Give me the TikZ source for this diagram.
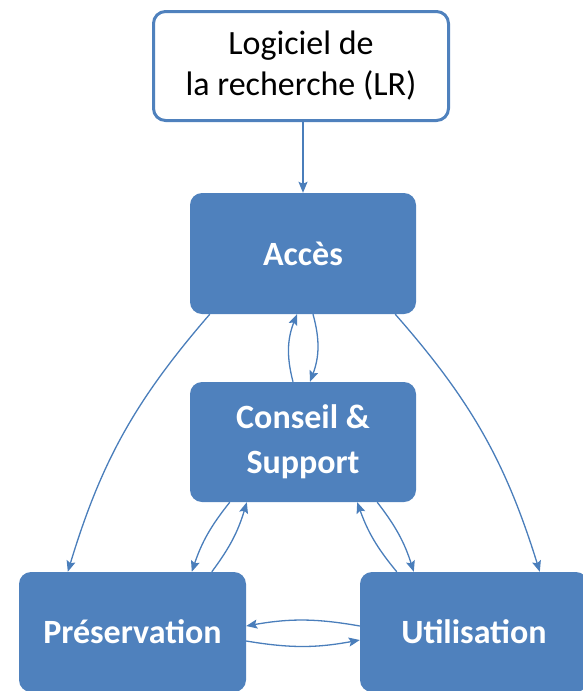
\documentclass[tikz,border=0pt]{standalone}
\usepackage{fontspec}
\setmainfont{Carlito}
\usetikzlibrary{arrows.meta}
\definecolor{boxblue}{HTML}{4F81BD}
\definecolor{linkblue}{HTML}{4A7EBB}
\tikzset{
  bluebox/.style={rounded corners=12pt,fill=boxblue,text=white,align=center,
    font=\fontsize{34}{45}\selectfont\bfseries,inner sep=0pt},
  whitebox/.style={rounded corners=12pt,draw=boxblue,line width=3pt,fill=white,
    align=center,font=\fontsize{34}{41}\selectfont,inner sep=0pt},
  link/.style={linkblue,line width=1.3pt,-{Stealth[length=11pt,width=9pt,inset=2pt]}}
}
\begin{document}
\begin{tikzpicture}[x=1pt,y=-1pt]
\useasboundingbox (0,0) rectangle (582,691);

\node[whitebox,minimum width=295pt,minimum height=109pt] (lr) at (301,66) {Logiciel de\\la recherche (LR)};
\node[bluebox,minimum width=226pt,minimum height=121pt] (acces) at (303,253.5) {Accès};
\node[bluebox,minimum width=226pt,minimum height=120pt] (conseil) at (303,442) {Conseil \&\\Support};
\node[bluebox,minimum width=227pt,minimum height=120pt] (pres) at (132.5,632) {Préservation};
\node[bluebox,minimum width=228pt,minimum height=120pt] (util) at (474,632) {Utilisation};

\draw[link] (lr.south -| acces.north) -- (acces.north);
\draw[link] ([xshift=20pt]acces.south west) to[bend right=12] ([xshift=49pt]pres.north west);
\draw[link] ([xshift=-21pt]acces.south east) to[bend left=12] ([xshift=180pt]util.north west);
% Acces <-> Conseil
\draw[link] ([xshift=-10pt]conseil.north) to[bend left=18] ([xshift=-6pt]acces.south);
\draw[link] ([xshift=10pt]acces.south) to[bend left=18] ([xshift=7pt]conseil.north);
% Conseil <-> Preservation
\draw[link] ([xshift=40pt]conseil.south west) to[bend right=10] ([xshift=173pt]pres.north west);
\draw[link] ([xshift=193pt]pres.north west) to[bend right=10] ([xshift=57pt]conseil.south west);
% Conseil <-> Utilisation
\draw[link] ([xshift=37pt]util.north west) to[bend left=10] ([xshift=-59pt]conseil.south east);
\draw[link] ([xshift=-39pt]conseil.south east) to[bend left=10] ([xshift=54pt]util.north west);
% Preservation <-> Utilisation
\draw[link] ([yshift=6pt]util.west) to[bend right=10] ([yshift=6pt]pres.east);
\draw[link] ([yshift=-9pt]pres.east) to[bend right=10] ([yshift=-8pt]util.west);
\end{tikzpicture}
\end{document}
